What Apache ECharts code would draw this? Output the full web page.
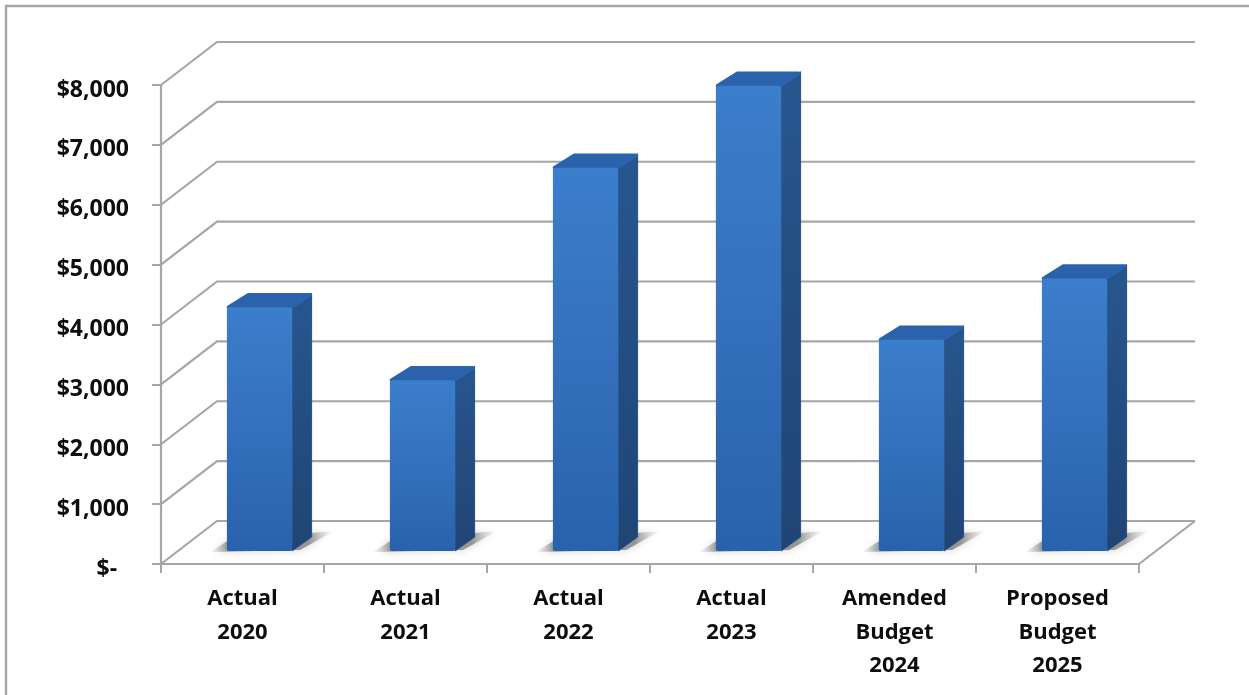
<!DOCTYPE html>
<html>
<head>
<meta charset="utf-8">
<style>html,body{margin:0;padding:0;background:#fff}#chart{width:1249px;height:695px}</style>
<script src="https://cdn.jsdelivr.net/npm/echarts@6/dist/echarts.min.js"></script>
</head>
<body>
<div id="chart"></div>
<script>
// Budget history, in dollars
const categories = ['Actual\n2020', 'Actual\n2021', 'Actual\n2022', 'Actual\n2023', 'Amended\nBudget\n2024', 'Proposed\nBudget\n2025'];
const amounts = [4070, 2850, 6400, 7770, 3530, 4550];
const gridValues = [0, 1000, 2000, 3000, 4000, 5000, 6000, 7000, 8000];

const FONT = '"Open Sans", "Noto Sans", sans-serif';
const GRID_COLOR = '#a6a6a6';
// Oblique projection of the chart box and of each bar
const WALL_DX = 56, WALL_DY = -43;
const BAR_DX = 19.5, BAR_DY = -14;
const FLOOR_DX = 17, FLOOR_DY = -13;
const BAR_RATIO = 0.4;

function renderWalls(params, api) {
  const cs = params.coordSys;
  const v = api.value(0);
  const y = api.coord([0, v])[1];
  const x0 = cs.x, x1 = cs.x + cs.width;
  const children = [{
    type: 'polyline',
    shape: { points: [[x0, y], [x0 + WALL_DX, y + WALL_DY], [x1 + WALL_DX, y + WALL_DY]] },
    style: { stroke: GRID_COLOR, lineWidth: 2.2, fill: null }
  }];
  if (v === 0) {
    children.push({
      type: 'line',
      shape: { x1: x1, y1: y, x2: x1 + WALL_DX, y2: y + WALL_DY },
      style: { stroke: GRID_COLOR, lineWidth: 2.2 }
    });
  }
  return { type: 'group', children };
}

function renderBar(params, api) {
  const idx = api.value(0);
  const top = api.coord([idx, api.value(1)]);
  const base = api.coord([idx, 0]);
  const w = api.size([1, 0])[0] * BAR_RATIO;
  const l = base[0] - w / 2 + FLOOR_DX;
  const r = l + w;
  const yb = base[1] + FLOOR_DY;
  const yt = top[1] + FLOOR_DY;

  // Soft cast shadow lying on the floor behind the bar
  const shadow = {
    type: 'polygon',
    shape: { points: [[l - 17, yb + 1], [l + 2, yb - 11], [r + 42, yb - 20], [r + 8, yb - 1]] },
    style: {
      fill: new echarts.graphic.LinearGradient(0, 0, 1, 0, [
        { offset: 0, color: 'rgba(170,170,170,0.05)' },
        { offset: 0.15, color: 'rgba(115,115,115,0.75)' },
        { offset: 0.8, color: 'rgba(125,125,125,0.75)' },
        { offset: 1, color: 'rgba(190,190,190,0.05)' }
      ]),
      shadowBlur: 9, shadowColor: 'rgba(150,150,150,0.55)'
    }
  };
  const side = {
    type: 'polygon',
    shape: { points: [[r, yt], [r + BAR_DX, yt + BAR_DY], [r + BAR_DX, yb + BAR_DY], [r, yb]] },
    style: {
      fill: new echarts.graphic.LinearGradient(0, 0, 0, 1, [
        { offset: 0, color: '#27568f' },
        { offset: 1, color: '#1f4574' }
      ]),
      stroke: '#24508a', lineWidth: 1, lineJoin: 'round'
    }
  };
  const cap = {
    type: 'polygon',
    shape: { points: [[l + 1.5, yt], [l + BAR_DX + 2, yt + BAR_DY + 1.5], [r + BAR_DX - 1.5, yt + BAR_DY + 1.5], [r - 1, yt]] },
    style: { fill: '#2a62ab', stroke: '#2a62ab', lineWidth: 3.5, lineJoin: 'round' }
  };
  const front = {
    type: 'rect',
    shape: { x: l, y: yt, width: w, height: yb - yt, r: 2 },
    style: {
      fill: new echarts.graphic.LinearGradient(0, 0, 0, 1, [
        { offset: 0, color: '#3b7ecb' },
        { offset: 0.5, color: '#3470bd' },
        { offset: 1, color: '#2962ac' }
      ])
    }
  };
  return { type: 'group', children: [shadow, side, cap, front] };
}

const chart = echarts.init(document.getElementById('chart'), null, { renderer: 'canvas' });
chart.setOption({
  animation: false,
  backgroundColor: '#ffffff',
  graphic: [{
    type: 'rect', silent: true, z: -1,
    shape: { x: 6, y: 6, width: 1300, height: 760 },
    style: { fill: '#fff', stroke: '#a6a6a6', lineWidth: 2.4 }
  }],
  grid: { left: 161, right: 110, top: 85, bottom: 131 },
  xAxis: {
    type: 'category',
    data: categories,
    axisLine: { lineStyle: { color: GRID_COLOR, width: 2.2 } },
    axisTick: { show: true, alignWithLabel: false, length: 9, lineStyle: { color: GRID_COLOR, width: 2 } },
    axisLabel: { color: '#0d0d0d', fontFamily: FONT, fontWeight: 'bold', fontSize: 22, lineHeight: 33.5, margin: 18, interval: 0 }
  },
  yAxis: {
    type: 'value',
    min: 0, max: 8000, interval: 1000,
    splitLine: { show: false },
    axisLine: { show: true, lineStyle: { color: GRID_COLOR, width: 2.2 } },
    axisTick: { show: true, length: 9, lineStyle: { color: GRID_COLOR, width: 2 } },
    axisLabel: {
      color: '#0d0d0d', fontFamily: FONT, fontWeight: 'bold', fontSize: 23, margin: 32,
      verticalAlign: 'top', lineHeight: 10,
      formatter: v => v === 0 ? '$-\u00a0\u00a0' : '$' + v.toLocaleString('en-US')
    }
  },
  series: [
    {
      type: 'custom', coordinateSystem: 'cartesian2d', clip: false, silent: true, z: 1,
      renderItem: renderWalls,
      encode: { y: 0 },
      data: gridValues.map(v => [v])
    },
    {
      type: 'custom', coordinateSystem: 'cartesian2d', clip: false, z: 2,
      renderItem: renderBar,
      encode: { x: 0, y: 1 },
      data: amounts.map((v, i) => [i, v])
    }
  ]
});
</script>
</body>
</html>
